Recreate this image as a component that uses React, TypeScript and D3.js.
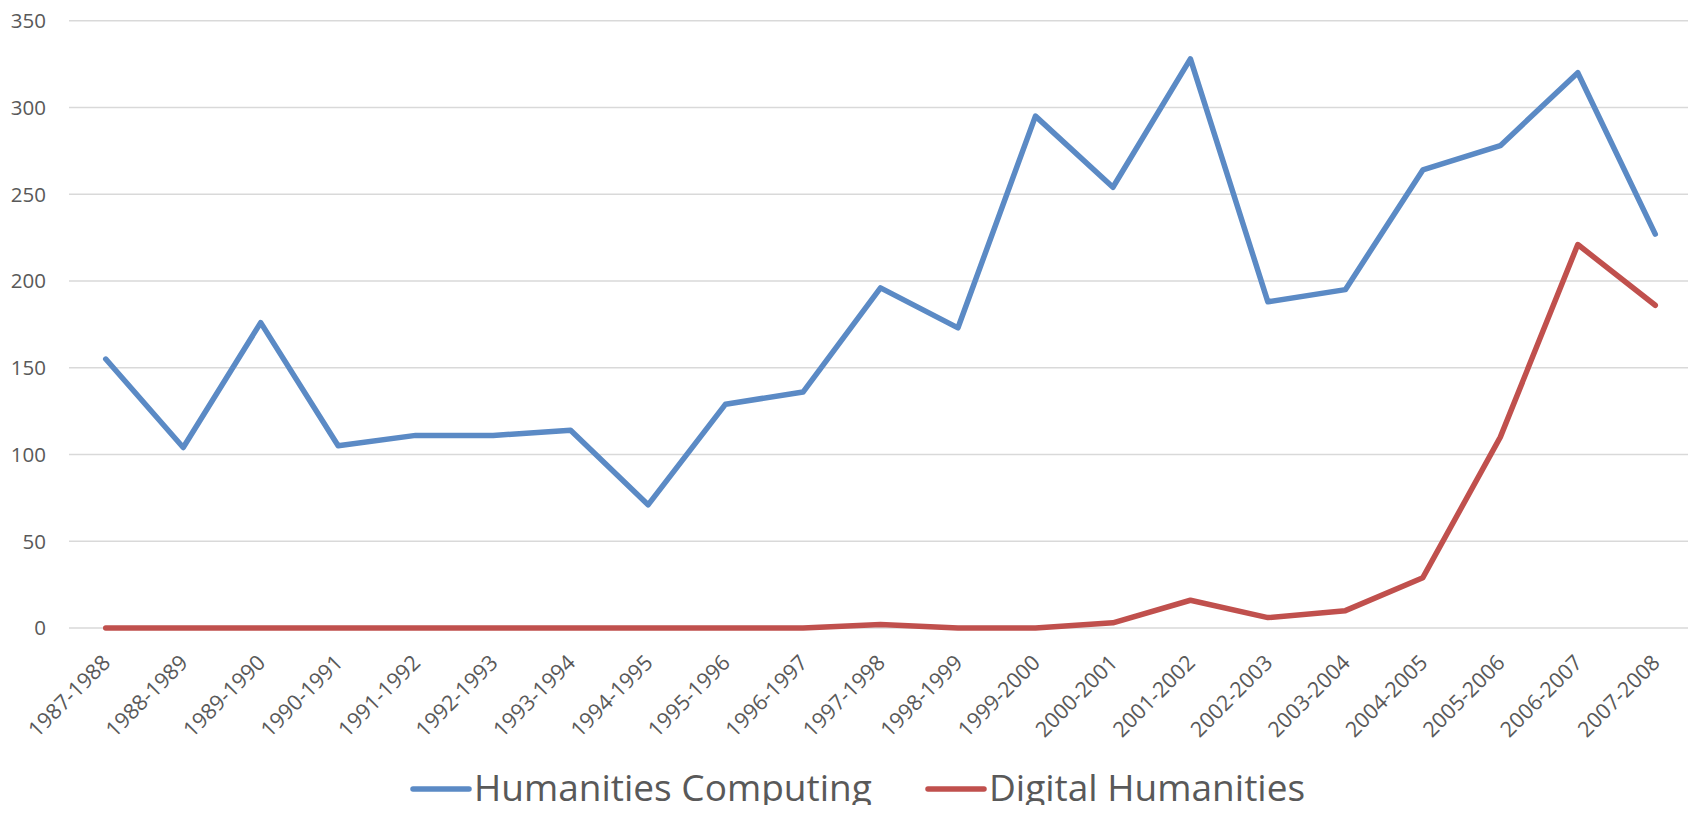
import { useEffect, useRef } from "react";
import * as d3 from "d3";

const years = [
  "1987-1988", "1988-1989", "1989-1990", "1990-1991", "1991-1992", "1992-1993",
  "1993-1994", "1994-1995", "1995-1996", "1996-1997", "1997-1998", "1998-1999",
  "1999-2000", "2000-2001", "2001-2002", "2002-2003", "2003-2004", "2004-2005",
  "2005-2006", "2006-2007", "2007-2008",
];
const humanitiesComputing = [
  155, 104, 176, 105, 111, 111, 114, 71, 129, 136, 196, 173, 295, 254, 328, 188,
  195, 264, 278, 320, 227,
];
const digitalHumanities = [
  0, 0, 0, 0, 0, 0, 0, 0, 0, 0, 2, 0, 0, 3, 16, 6, 10, 29, 110, 221, 186,
];
const yTicks = [0, 50, 100, 150, 200, 250, 300, 350];

const seriesNames = ["Humanities Computing", "Digital Humanities"];
const colors = ["#5b8ac5", "#c0504d"];

const W = 1696;
const H = 813;
const font = "'Open Sans', sans-serif";
const textColor = "#595959";

const App = () => {
  const ref = useRef<HTMLDivElement | null>(null);

  useEffect(() => {
    if (!ref.current) return;
    const svg = d3
      .select(ref.current)
      .append("svg")
      .attr("width", W)
      .attr("height", H)
      .style("display", "block")
      .style("background", "#fff");

    const x = d3.scaleBand().domain(years).range([67, 1694]);
    const y = d3.scaleLinear().domain([0, 350]).range([628, 20.7]);
    const cx = (d: string) => (x(d) as number) + x.bandwidth() / 2;

    // gridlines
    svg
      .append("g")
      .selectAll("line")
      .data(yTicks)
      .join("line")
      .attr("x1", 69)
      .attr("x2", 1694)
      .attr("y1", (d) => y(d))
      .attr("y2", (d) => y(d))
      .attr("stroke", "#d9d9d9")
      .attr("stroke-width", 1.5);

    // y labels
    svg
      .append("g")
      .selectAll("text")
      .data(yTicks)
      .join("text")
      .attr("x", 46)
      .attr("y", (d) => y(d))
      .attr("dy", "0.36em")
      .attr("text-anchor", "end")
      .attr("font-family", font)
      .attr("font-size", 20.5)
      .attr("fill", textColor)
      .text((d) => d);

    // x labels
    svg
      .append("g")
      .selectAll("text")
      .data(years)
      .join("text")
      .attr("transform", (d) => `translate(${cx(d) + 6},664) rotate(-45)`)
      .attr("text-anchor", "end")
      .attr("font-family", font)
      .attr("font-size", 21.5)
      .attr("fill", textColor)
      .text((d) => d);

    const line = d3
      .line<number>()
      .x((_, i) => cx(years[i]))
      .y((v) => y(v));

    [humanitiesComputing, digitalHumanities].forEach((vals, i) => {
      svg
        .append("path")
        .datum(vals)
        .attr("d", line)
        .attr("fill", "none")
        .attr("stroke", colors[i])
        .attr("stroke-width", 5.5)
        .attr("stroke-linejoin", "round")
        .attr("stroke-linecap", "round");
    });

    // legend
    const legendX = [413, 928];
    seriesNames.forEach((name, i) => {
      const g = svg.append("g").attr("transform", `translate(${legendX[i]},789)`);
      g.append("line")
        .attr("x1", 0)
        .attr("x2", 56)
        .attr("y1", 0)
        .attr("y2", 0)
        .attr("stroke", colors[i])
        .attr("stroke-width", 5.5)
        .attr("stroke-linecap", "round");
      g.append("text")
        .attr("x", 61)
        .attr("y", 12)
        .attr("font-family", font)
        .attr("font-size", 37)
        .attr("fill", textColor)
        .text(name);
    });

    return () => {
      svg.remove();
    };
  }, []);

  return <div ref={ref} style={{ margin: -8 }}></div>;
};

export default App;
